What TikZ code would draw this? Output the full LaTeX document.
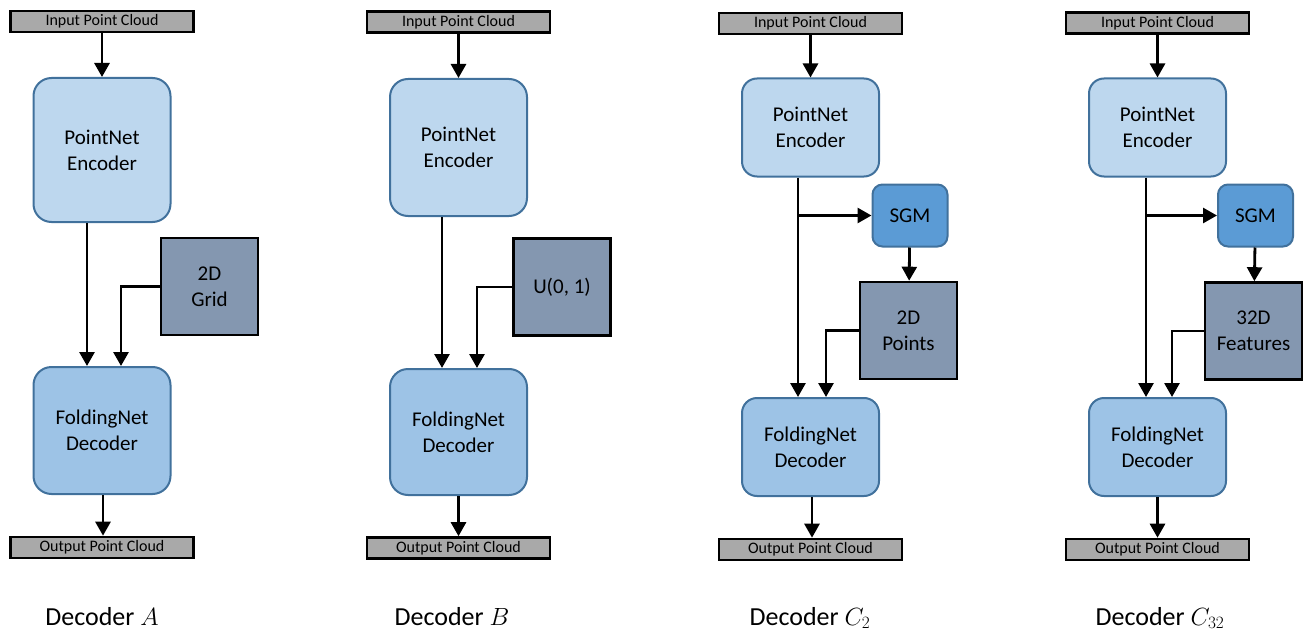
\documentclass[tikz,border=0pt]{standalone}
\usepackage{fontspec}
\setmainfont{Carlito}
\usetikzlibrary{arrows.meta}

\definecolor{encfill}{HTML}{BDD7EE}
\definecolor{decfill}{HTML}{9DC3E6}
\definecolor{sgmfill}{HTML}{5B9BD5}
\definecolor{blueline}{HTML}{41719C}
\definecolor{iofill}{HTML}{A9A9A9}
\definecolor{datafill}{HTML}{8497B0}

\tikzset{
  iobox/.style={draw=black, line width=2.6pt, fill=iofill, minimum width=183pt,
    minimum height=21pt, inner sep=0pt, font=\fontsize{16}{18}\selectfont},
  encbox/.style={draw=blueline, line width=2pt, fill=encfill, rounded corners=18pt,
    minimum width=137pt, inner sep=0pt, align=center, font=\fontsize{21}{25.7}\selectfont},
  decbox/.style={encbox, fill=decfill},
  sgmbox/.style={draw=blueline, line width=2pt, fill=sgmfill, rounded corners=10pt,
    minimum width=75pt, minimum height=62pt, inner sep=0pt, font=\fontsize{21}{25.7}\selectfont},
  databox/.style={draw=black, line width=2.6pt, fill=datafill, minimum width=97pt,
    minimum height=97pt, inner sep=0pt, align=center, font=\fontsize{21}{25.7}\selectfont},
  arr/.style={line width=2.8pt, -{Triangle[width=15pt,length=14pt]}},
  caption/.style={anchor=base, font=\fontsize{26}{30}\selectfont}
}

\begin{document}
\begin{tikzpicture}[x=1pt, y=-1pt]
\useasboundingbox (0,0) rectangle (1304,634);

% ---------- Decoder A ----------
\node[iobox] (inA) at (102,21.5) {Input Point Cloud};
\node[encbox, minimum height=144pt] (encA) at (102,150) {PointNet\\Encoder};
\node[databox] (gridA) at (209.5,286.5) {2D\\Grid};
\node[decbox, minimum height=127pt] (decA) at (102,430.5) {FoldingNet\\Decoder};
\node[iobox] (outA) at (102,547.5) {Output Point Cloud};
\node[caption] (capA) at (102,625) {Decoder $A$};
\draw[arr] (inA) -- (encA);
\draw[arr] ([xshift=-15pt]encA.south) -- ([xshift=-15pt]decA.north);
\draw[arr] (gridA.west) -| ([xshift=19pt]decA.north);
\draw[arr] ([xshift=1pt]decA.south) -- ([xshift=1pt]outA.north);

% ---------- Decoder B ----------
\node[iobox] (inB) at (458.5,22) {Input Point Cloud};
\node[encbox, minimum height=137pt] (encB) at (458.5,147.5) {PointNet\\Encoder};
\node[databox] (uB) at (562,287) {U(0, 1)};
\node[decbox, minimum height=126pt] (decB) at (458.5,432) {FoldingNet\\Decoder};
\node[iobox] (outB) at (458.5,548) {Output Point Cloud};
\node[caption] (capB) at (452,625) {Decoder $B$};
\draw[arr] (inB) -- (encB);
\draw[arr] ([xshift=-16.5pt]encB.south) -- ([xshift=-16.5pt]decB.north);
\draw[arr] (uB.west) -| ([xshift=18.5pt]decB.north);
\draw[arr] (decB) -- (outB);

% ---------- Decoder C2 ----------
\node[iobox] (inC) at (810.5,23.5) {Input Point Cloud};
\node[encbox, minimum height=98pt, rounded corners=15pt] (encC) at (810.5,127.5) {PointNet\\Encoder};
\node[sgmbox] (sgmC) at (910,215.5) {SGM};
\node[databox] (ptsC) at (908.5,330.5) {2D\\Points};
\node[decbox, minimum height=98pt, rounded corners=15pt] (decC) at (810.5,447) {FoldingNet\\Decoder};
\node[iobox] (outC) at (810.5,549.5) {Output Point Cloud};
\node[caption] (capC) at (810,625) {Decoder $C_2$};
\draw[arr] (inC) -- (encC);
\draw[arr] ([xshift=-12.5pt]encC.south) -- ([xshift=-12.5pt]decC.north);
\draw[arr] ([xshift=-12.5pt]encC.south |- sgmC.west) -- (sgmC.west);
\draw[arr] (sgmC) -- (ptsC);
\draw[arr] (ptsC.west) -| ([xshift=15.5pt]decC.north);
\draw[arr] ([xshift=1.5pt]decC.south) -- ([xshift=1.5pt]outC.north);

% ---------- Decoder C32 ----------
\node[iobox] (inD) at (1157.5,23) {Input Point Cloud};
\node[encbox, minimum height=98pt, rounded corners=15pt] (encD) at (1157.5,127.5) {PointNet\\Encoder};
\node[sgmbox] (sgmD) at (1255.5,215.5) {SGM};
\node[databox] (featD) at (1253.5,331) {32D\\Features};
\node[decbox, minimum height=98pt, rounded corners=15pt] (decD) at (1157.5,447) {FoldingNet\\Decoder};
\node[iobox] (outD) at (1157.5,549.5) {Output Point Cloud};
\node[caption] (capD) at (1160,625) {Decoder $C_{32}$};
\draw[arr] (inD) -- (encD);
\draw[arr] ([xshift=-11.5pt]encD.south) -- ([xshift=-11.5pt]decD.north);
\draw[arr] ([xshift=-11.5pt]encD.south |- sgmD.west) -- (sgmD.west);
\draw[arr] (sgmD) -- (featD);
\draw[arr] (featD.west) -| ([xshift=14.5pt]decD.north);
\draw[arr] (decD) -- (outD);
\end{tikzpicture}
\end{document}
